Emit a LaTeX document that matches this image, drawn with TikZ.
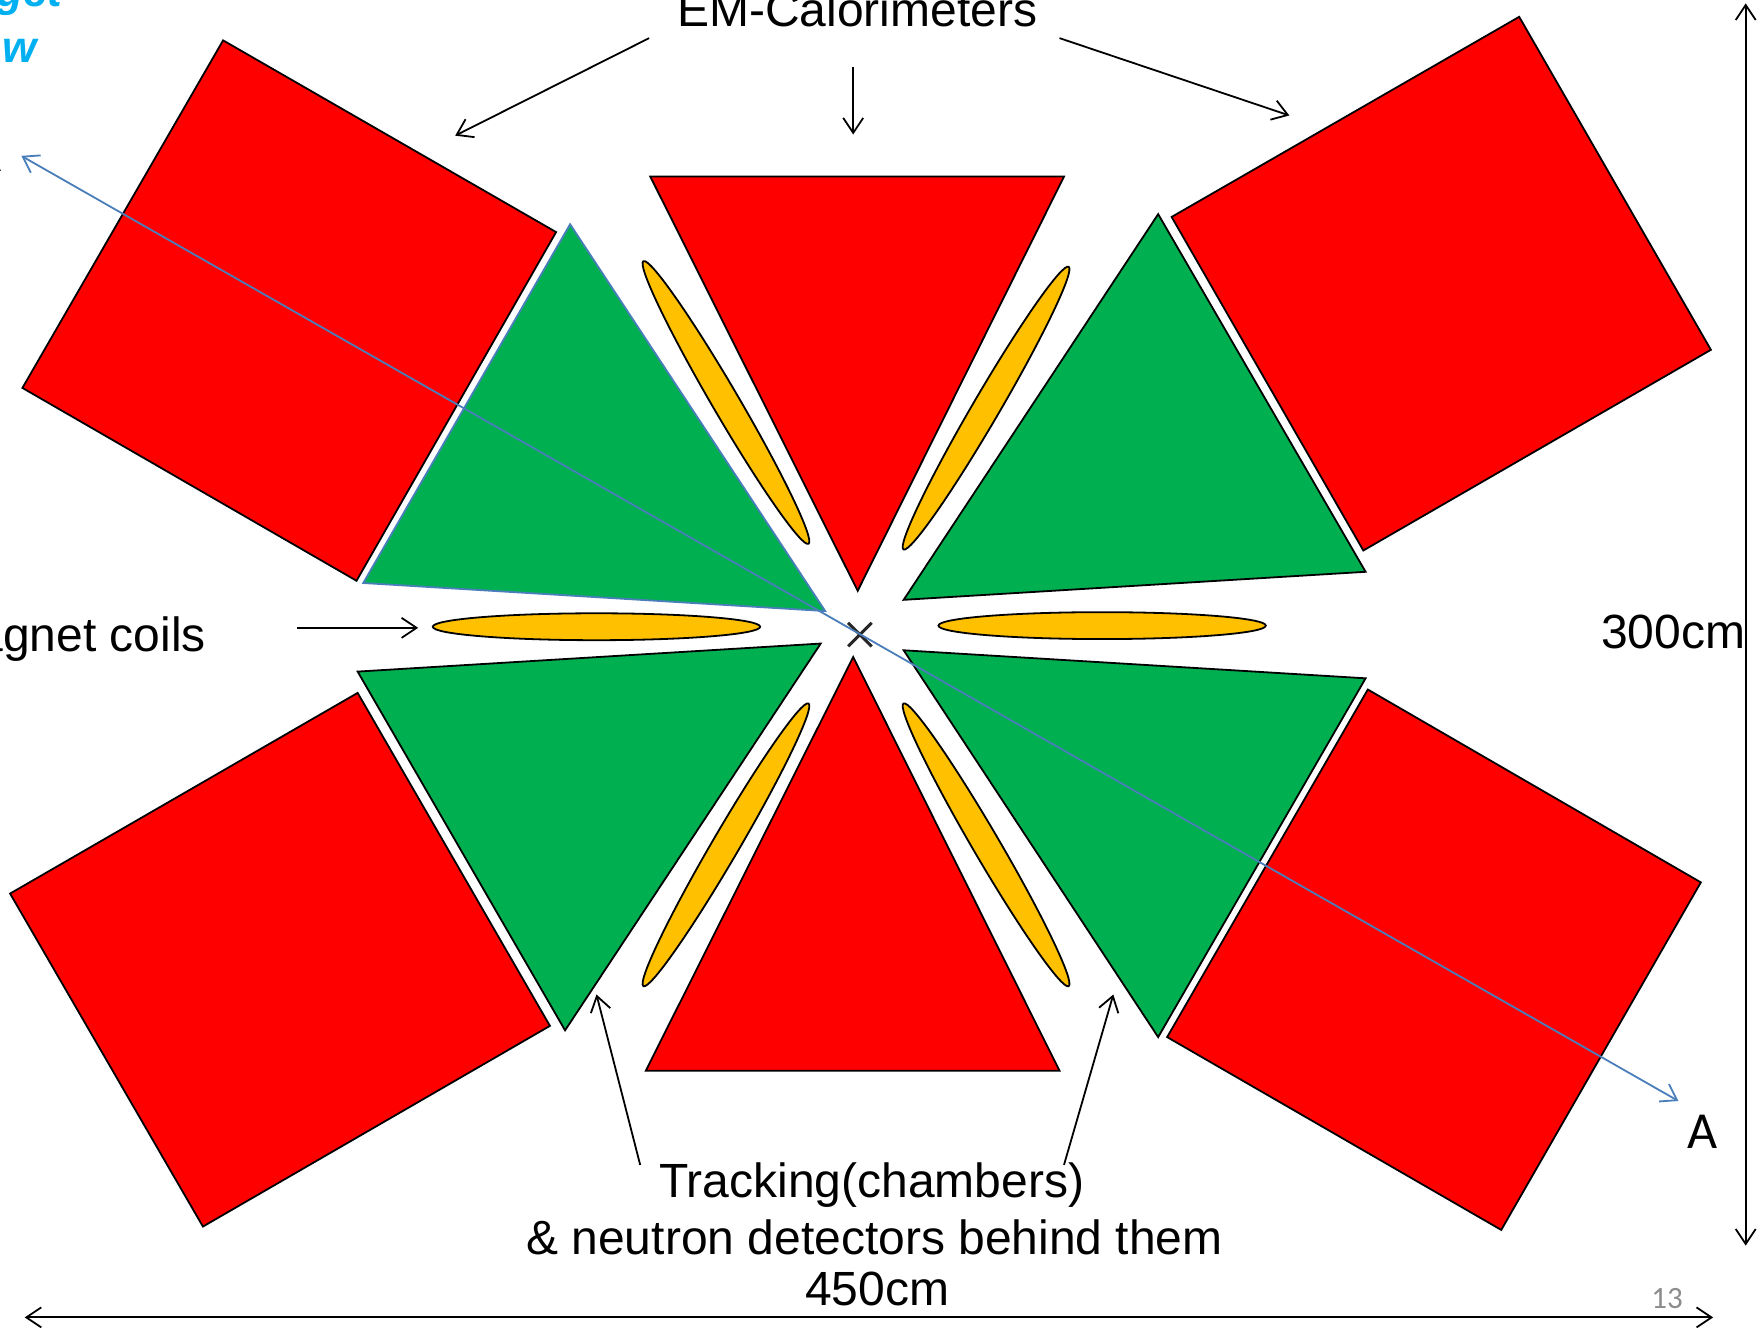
\documentclass[tikz,border=0pt]{standalone}
\usepackage{fontspec}
\setmainfont{Liberation Sans}
\newfontfamily\calib{Carlito}
\usetikzlibrary{arrows.meta}
\definecolor{gr}{HTML}{00B050}
\definecolor{go}{HTML}{FFC000}
\definecolor{bl}{HTML}{4A7EBB}
\definecolor{cy}{HTML}{00B0F0}
\tikzset{
 x=0.5606pt,y=-0.5606pt,
 redbox/.style={fill=red,draw=black,line width=0.9pt,line join=miter},
 greenbox/.style={fill=gr,draw=black,line width=0.9pt},
 coil/.style={fill=go,draw=black,line width=0.9pt},
 barb/.style={-{Straight Barb[length=7.5pt,width=10pt,line width=.9pt]},line width=.9pt,black},
 dimline/.style={{Straight Barb[length=7.5pt,width=10pt,line width=.9pt]}-{Straight Barb[length=7.5pt,width=10pt,line width=.9pt]},line width=.9pt,black},
 blueline/.style={{Straight Barb[length=7.5pt,width=10pt,line width=.9pt]}-{Straight Barb[length=7.5pt,width=10pt,line width=.9pt]},line width=.9pt,bl},
 lab/.style={font=\fontsize{24}{24}\selectfont,anchor=base,inner sep=0pt,text=black},
}
\begin{document}
\begin{tikzpicture}
\useasboundingbox (0,0) rectangle (1568,1183.6);
\clip (0,0) rectangle (1568,1183.6);
\fill[white] (0,0) rectangle (1568,1183.6);
% calorimeter blocks
\draw[redbox] (199,36)--(496,207)--(318,518)--(20,346)--cycle;
\draw[redbox] (1355,15)--(1526,312)--(1216,491)--(1045,193.5)--cycle;
\draw[redbox] (319,618)--(490.5,915)--(181,1094)--(9,797)--cycle;
\draw[redbox] (1220,615)--(1517,787)--(1339,1097)--(1041,925)--cycle;
\draw[redbox] (580,157.5)--(949,157.5)--(765,527)--cycle;
\draw[redbox] (761,586)--(945,955)--(576,955)--cycle;
% green
\draw[greenbox,draw=bl] (508.5,200)--(736,545)--(324,520)--cycle;
\draw[greenbox] (1033,191)--(1218,510)--(806,535)--cycle;
\draw[greenbox] (319,599)--(732,574)--(504,919)--cycle;
\draw[greenbox] (806,580)--(1218,605)--(1033,925)--cycle;
% coils
\draw[coil] (532,559) ellipse [x radius=146,y radius=12];
\draw[coil] (983,558) ellipse [x radius=146,y radius=12];
\draw[coil,rotate around={-59.7:(647.5,359)}] (647.5,359) ellipse [x radius=146,y radius=12];
\draw[coil,rotate around={59.7:(879.5,364)}] (879.5,364) ellipse [x radius=146,y radius=12];
\draw[coil,rotate around={59.7:(647.5,753.5)}] (647.5,753.5) ellipse [x radius=146,y radius=12];
\draw[coil,rotate around={-59.7:(879.5,753.5)}] (879.5,753.5) ellipse [x radius=146,y radius=12];
% target cross
\draw[line width=1.5pt,black!85] (756.5,555.5)--(777.5,576.5) (777.5,555.5)--(756.5,576.5);
% labels
\node[lab] (em) at (764.5,24) {EM-Calorimeters};
\node[lab,anchor=base east] (mag) at (184,581) {Magnet coils};
\node[lab,anchor=base east] (size300) at (1557,578.5) {300cm};
\node[lab] (trk) at (777.5,1068) {Tracking(chambers)};
\node[lab] (nd) at (780,1119) {\& neutron detectors behind them};
\node[lab] (size450) at (782.5,1164) {450cm};
\node[lab,font=\calib\fontsize{26}{26}\selectfont] (a2) at (1518.5,1024) {A};
\node[lab,font=\calib\fontsize{26}{26}\selectfont,anchor=base east] (a1) at (2,153) {A};
\node[lab,font=\calib\fontsize{15.5}{15.5}\selectfont,text=black!45] (pg) at (1487,1167) {13};
\node[lab,font=\bfseries\itshape\fontsize{22}{22}\selectfont,text=cy,anchor=base east] (t1) at (56,6) {get};
\node[lab,font=\bfseries\itshape\fontsize{22}{22}\selectfont,text=cy,anchor=base east] (t2) at (33,56) {w};
% connector ends
\coordinate (e1s) at (579,34); \coordinate (e1e) at (406,121);
\coordinate (e2s) at (761,60); \coordinate (e2e) at (761,120);
\coordinate (e3s) at (945,34); \coordinate (e3e) at (1150,103);
\coordinate (ms) at (265,560); \coordinate (me) at (373,560);
\coordinate (t1s) at (571,1039); \coordinate (t1e) at (532,887);
\coordinate (t2s) at (949,1039); \coordinate (t2e) at (993,887);
\coordinate (vt) at (1557,3); \coordinate (vb) at (1557,1111);
\coordinate (hl) at (22,1175); \coordinate (hr) at (1528,1175);
\coordinate (bs) at (1497,982); \coordinate (be) at (19,139);
\draw[barb] (e1s)--(e1e);
\draw[barb] (e2s)--(e2e);
\draw[barb] (e3s)--(e3e);
\draw[barb] (ms)--(me);
\draw[barb] (t1s)--(t1e);
\draw[barb] (t2s)--(t2e);
\draw[dimline] (vt)--(vb);
\draw[dimline] (hl)--(hr);
\draw[blueline] (be)--(bs);
\end{tikzpicture}
\end{document}
